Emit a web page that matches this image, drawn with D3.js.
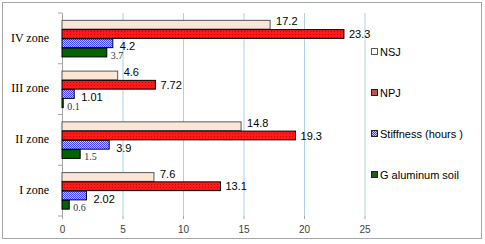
<!DOCTYPE html>
<html>
<head>
<meta charset="utf-8">
<script src="https://cdn.jsdelivr.net/npm/d3@7"></script>
<style>
  body { margin: 0; background: #fff; }
  svg { display: block; }
</style>
</head>
<body>
<div id="chart"></div>
<script>
// Values
const categories = ['IV zone', 'III zone', 'II zone', 'I zone'];
const seriesNames = ['NSJ', 'NPJ', 'Stiffness (hours )', 'G aluminum soil'];
const nsj = [17.2, 4.6, 14.8, 7.6];
const npj = [23.3, 7.72, 19.3, 13.1];
const stiffness = [4.2, 1.01, 3.9, 2.02];
const gSoil = [3.7, 0.1, 1.5, 0.6];
const xTicks = [0, 5, 10, 15, 20, 25];

const seriesValues = [nsj, npj, stiffness, gSoil];

const width = 485;
const height = 244;
const plot = { left: 62, right: 364.5, top: 13, bottom: 216 };

const svg = d3.select('#chart')
  .append('svg')
  .attr('width', width)
  .attr('height', height);

// outer frame
svg.append('rect')
  .attr('x', 2.5).attr('y', 2.5)
  .attr('width', 479).attr('height', 236)
  .attr('fill', '#fff')
  .attr('stroke', '#a6a6a6');

// patterns
const defs = svg.append('defs');
const dots = defs.append('pattern')
  .attr('id', 'npjPat').attr('patternUnits', 'userSpaceOnUse')
  .attr('width', 3).attr('height', 3);
dots.append('rect').attr('width', 3).attr('height', 3).attr('fill', '#ff1a1a');
dots.append('rect').attr('x', 1).attr('y', 1).attr('width', 1).attr('height', 1).attr('fill', '#d40000');

const checker = defs.append('pattern')
  .attr('id', 'stiffPat').attr('patternUnits', 'userSpaceOnUse')
  .attr('width', 2).attr('height', 2);
checker.append('rect').attr('width', 2).attr('height', 2).attr('fill', '#c4c4ff');
checker.append('rect').attr('width', 1).attr('height', 1).attr('fill', '#4444ff');
checker.append('rect').attr('x', 1).attr('y', 1).attr('width', 1).attr('height', 1).attr('fill', '#4444ff');

const fills = ['#fbe5d6', 'url(#npjPat)', 'url(#stiffPat)', '#006400'];
const strokes = ['#595959', '#000', '#000', '#000'];
const legendFills = ['#fff', '#c0504d', 'url(#stiffPat)', '#1e5c1e'];

// scales
const x = d3.scaleLinear().domain([0, 25]).range([plot.left, plot.right]);
const y = d3.scaleBand()
  .domain(categories)
  .range([plot.top, plot.bottom])
  .paddingInner(0.27)
  .paddingOuter(0.135);
const ySub = d3.scaleBand()
  .domain(d3.range(seriesNames.length))
  .range([0, y.bandwidth()]);

// gridlines
const grid = svg.append('g')
  .attr('transform', `translate(0, ${plot.bottom})`)
  .call(d3.axisBottom(x).tickValues(xTicks).tickFormat('').tickSize(-(plot.bottom - plot.top)));
grid.select('.domain').remove();
grid.selectAll('line').attr('stroke', '#a9d2e3');
grid.selectAll('.tick').filter(d => d === 0).select('line').attr('stroke', '#a6a6a6');

// x tick labels
const xAxis = svg.append('g')
  .attr('transform', `translate(0, ${plot.bottom})`)
  .call(d3.axisBottom(x).tickValues(xTicks).tickSize(3).tickPadding(7));
xAxis.select('.domain').remove();
xAxis.selectAll('line').attr('stroke', '#a6a6a6');
xAxis.selectAll('text')
  .attr('font-family', 'Liberation Sans, Arial, sans-serif')
  .attr('font-size', 10)
  .attr('fill', '#404040');

// category axis (ticks between groups)
const bounds = [plot.top].concat(categories.map(c => y(c) + y.bandwidth() + y.step() * y.paddingInner() / 2));
svg.append('g')
  .selectAll('line')
  .data(bounds)
  .join('line')
  .attr('x1', plot.left - 4).attr('x2', plot.left)
  .attr('y1', d => d).attr('y2', d => d)
  .attr('stroke', '#a6a6a6');

svg.append('g')
  .selectAll('text')
  .data(categories)
  .join('text')
  .attr('x', plot.left - 13)
  .attr('y', d => y(d) + y.bandwidth() / 2 - 1)
  .attr('dy', '0.35em')
  .attr('text-anchor', 'end')
  .attr('font-family', 'Liberation Serif, Times New Roman, serif')
  .attr('font-size', 12)
  .attr('fill', '#000')
  .text(d => d);

// bars
const labelDy = [-3, 0.5, 3.5, 3];
const labelDx = [6, 5, 7, 4];
seriesValues.forEach((vals, s) => {
  const g = svg.append('g');
  g.selectAll('rect')
    .data(vals)
    .join('rect')
    .attr('x', x(0))
    .attr('y', (d, i) => y(categories[i]) + ySub(s) + 0.5)
    .attr('width', d => x(d) - x(0))
    .attr('height', ySub.bandwidth() - 0.5)
    .attr('fill', fills[s])
    .attr('stroke', strokes[s])
    .attr('stroke-width', 1);

  g.selectAll('text')
    .data(vals)
    .join('text')
    .attr('x', d => x(d) + labelDx[s])
    .attr('y', (d, i) => y(categories[i]) + ySub(s) + ySub.bandwidth() / 2 + labelDy[s])
    .attr('dy', '0.35em')
    .attr('font-family', s === 3 ? 'Liberation Serif, Times New Roman, serif' : 'Liberation Sans, Arial, sans-serif')
    .attr('font-size', s === 3 ? 10 : 11)
    .attr('fill', s === 3 ? '#333' : '#000')
    .text(d => d);
});

// legend
const legend = svg.append('g')
  .selectAll('g')
  .data(seriesNames)
  .join('g')
  .attr('transform', (d, i) => `translate(371, ${52 + i * 41})`);
legend.append('rect')
  .attr('x', 0.5).attr('y', -3.5)
  .attr('width', 6).attr('height', 6)
  .attr('fill', (d, i) => legendFills[i])
  .attr('stroke', (d, i) => i === 0 ? '#595959' : '#222');
legend.append('text')
  .attr('x', 9)
  .attr('y', 0)
  .attr('dy', '0.35em')
  .attr('font-family', 'Liberation Sans, Arial, sans-serif')
  .attr('font-size', 11)
  .attr('fill', '#000')
  .text(d => d);
</script>
</body>
</html>
